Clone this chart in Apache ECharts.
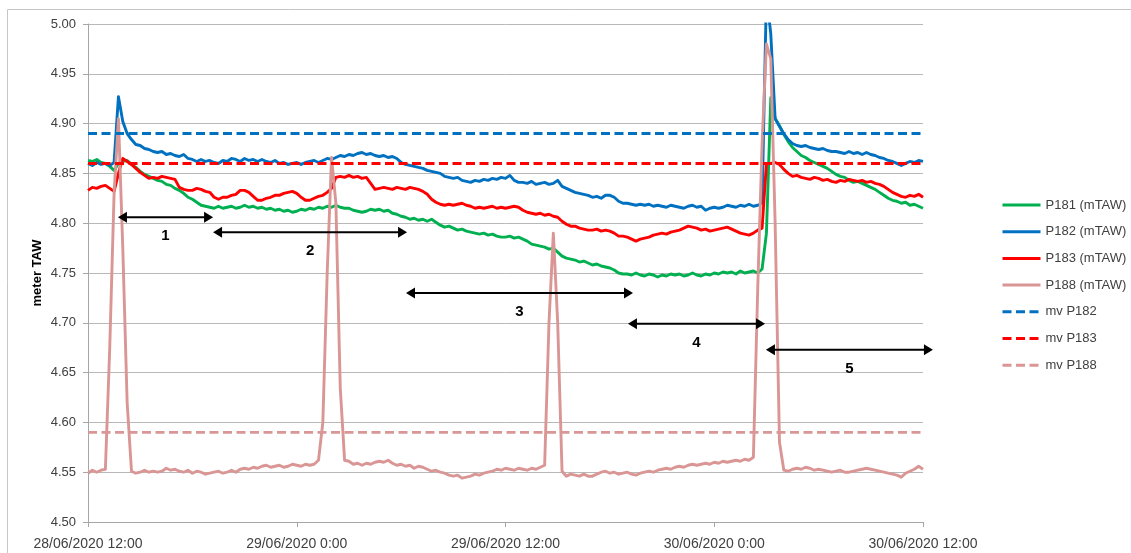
<!DOCTYPE html>
<html>
<head>
<meta charset="utf-8">
<script src="https://cdn.jsdelivr.net/npm/echarts@6/dist/echarts.min.js"></script>
<style>
  html, body { margin: 0; padding: 0; background: #ffffff; }
  #chart { width: 1131px; height: 553px; }
</style>
</head>
<body>
<div id="chart"></div>
<script>
// Quarter-hour readings starting 28/06/2020 12:00 (x axis in hours from start)
const STEP_H = 0.25;

const xTickLabels = ['28/06/2020 12:00', '29/06/2020 0:00', '29/06/2020 12:00', '30/06/2020 0:00', '30/06/2020 12:00'];

// Water levels in mTAW, one row per hour (4 readings)
const p181 = [
  4.863, 4.862, 4.864, 4.861,
  4.860, 4.857, 4.853, 4.860,
  4.862, 4.863, 4.859, 4.856,
  4.852, 4.849, 4.847, 4.845,
  4.843, 4.842, 4.839, 4.838,
  4.835, 4.833, 4.830, 4.826,
  4.824, 4.821, 4.818, 4.817,
  4.816, 4.815, 4.817, 4.815,
  4.816, 4.817, 4.815, 4.816,
  4.818, 4.816, 4.817, 4.815,
  4.816, 4.814, 4.815, 4.813,
  4.814, 4.812, 4.813, 4.811,
  4.812, 4.814, 4.813, 4.815,
  4.814, 4.816, 4.815, 4.817,
  4.816, 4.818, 4.816, 4.815,
  4.815, 4.813, 4.812, 4.811,
  4.812, 4.814, 4.813, 4.814,
  4.812, 4.813, 4.810, 4.809,
  4.807, 4.806, 4.804, 4.805,
  4.803, 4.804, 4.802, 4.804,
  4.801, 4.798, 4.796, 4.797,
  4.795, 4.793, 4.794, 4.792,
  4.791, 4.790, 4.789, 4.790,
  4.788, 4.789, 4.787, 4.786,
  4.786, 4.787, 4.785, 4.786,
  4.784, 4.782, 4.779, 4.778,
  4.777, 4.776, 4.774, 4.775,
  4.771, 4.767, 4.765, 4.764,
  4.763, 4.761, 4.762, 4.760,
  4.758, 4.759, 4.757, 4.756,
  4.755, 4.753, 4.750, 4.749,
  4.749, 4.748, 4.750, 4.748,
  4.747, 4.749, 4.748, 4.746,
  4.748, 4.747, 4.749, 4.748,
  4.749, 4.747, 4.748, 4.750,
  4.748, 4.747, 4.749, 4.748,
  4.750, 4.749, 4.751, 4.750,
  4.751, 4.749, 4.752, 4.750,
  4.751, 4.752, 4.750, 4.754,
  4.790, 4.926, 4.905, 4.898,
  4.889, 4.882, 4.876, 4.872,
  4.868, 4.866, 4.863, 4.861,
  4.859, 4.857, 4.855, 4.852,
  4.849, 4.847, 4.846, 4.843,
  4.841, 4.842, 4.840, 4.838,
  4.836, 4.834, 4.831, 4.828,
  4.825, 4.823, 4.822, 4.820,
  4.821, 4.818, 4.819, 4.817,
  4.815
];

const p182 = [
  4.860, 4.858, 4.861, 4.859,
  4.860, 4.858, 4.861, 4.927,
  4.902, 4.890, 4.884, 4.879,
  4.878, 4.875, 4.874, 4.872,
  4.871, 4.872, 4.869, 4.870,
  4.868, 4.867, 4.869, 4.865,
  4.864, 4.862, 4.864, 4.862,
  4.863, 4.861, 4.860, 4.863,
  4.862, 4.865, 4.864, 4.862,
  4.865, 4.863, 4.864, 4.862,
  4.864, 4.862, 4.861, 4.863,
  4.860, 4.861, 4.859, 4.860,
  4.861, 4.859, 4.861, 4.862,
  4.863, 4.861, 4.863, 4.865,
  4.864, 4.866, 4.868, 4.867,
  4.869, 4.868, 4.870, 4.871,
  4.869, 4.870, 4.868, 4.867,
  4.868, 4.866, 4.867, 4.865,
  4.861, 4.859, 4.858, 4.857,
  4.856, 4.855, 4.853, 4.852,
  4.851, 4.850, 4.847, 4.846,
  4.845, 4.846, 4.843, 4.842,
  4.841, 4.843, 4.842, 4.844,
  4.843, 4.845, 4.844, 4.846,
  4.845, 4.848, 4.843, 4.841,
  4.841, 4.840, 4.842, 4.839,
  4.840, 4.841, 4.839, 4.840,
  4.843, 4.837, 4.835, 4.833,
  4.831, 4.830, 4.829, 4.828,
  4.826, 4.827, 4.825, 4.828,
  4.828, 4.826, 4.822, 4.820,
  4.820, 4.819, 4.818, 4.819,
  4.818, 4.819, 4.817, 4.818,
  4.817, 4.816, 4.818, 4.817,
  4.816, 4.815, 4.817, 4.818,
  4.816, 4.817, 4.813, 4.815,
  4.816, 4.815, 4.816, 4.818,
  4.817, 4.816, 4.818, 4.817,
  4.819, 4.817, 4.818, 4.820,
  5.030, 4.990, 4.905, 4.897,
  4.890, 4.884, 4.880, 4.878,
  4.877, 4.878, 4.876, 4.875,
  4.874, 4.875, 4.873, 4.872,
  4.872, 4.871, 4.870, 4.872,
  4.870, 4.871, 4.869, 4.871,
  4.869, 4.868, 4.866, 4.865,
  4.863, 4.862, 4.860, 4.858,
  4.860, 4.862, 4.861, 4.863,
  4.862
];

const p183 = [
  4.833, 4.836, 4.835, 4.837,
  4.838, 4.835, 4.832, 4.850,
  4.865, 4.862, 4.859, 4.855,
  4.851, 4.848, 4.845, 4.846,
  4.845, 4.847, 4.846, 4.845,
  4.844, 4.836, 4.834, 4.833,
  4.833, 4.835, 4.834, 4.832,
  4.831, 4.826, 4.824, 4.826,
  4.826, 4.828, 4.829, 4.833,
  4.833, 4.831, 4.827, 4.823,
  4.823, 4.825, 4.826, 4.828,
  4.828, 4.830, 4.831, 4.832,
  4.830, 4.826, 4.823, 4.823,
  4.825, 4.827, 4.828, 4.831,
  4.835, 4.846, 4.847, 4.846,
  4.848, 4.846, 4.847, 4.845,
  4.846, 4.840, 4.834, 4.835,
  4.836, 4.835, 4.834, 4.836,
  4.835, 4.834, 4.836, 4.835,
  4.834, 4.832, 4.829, 4.824,
  4.821, 4.819, 4.818, 4.819,
  4.818, 4.819, 4.820, 4.818,
  4.817, 4.815, 4.816, 4.815,
  4.816, 4.817, 4.815, 4.816,
  4.815, 4.816, 4.817, 4.816,
  4.813, 4.811, 4.810, 4.809,
  4.810, 4.808, 4.809, 4.807,
  4.806, 4.802, 4.799, 4.797,
  4.797, 4.795, 4.794, 4.793,
  4.793, 4.794, 4.792, 4.793,
  4.792, 4.790, 4.787, 4.787,
  4.786, 4.784, 4.782, 4.784,
  4.785, 4.786, 4.788, 4.789,
  4.790, 4.789, 4.791, 4.792,
  4.793, 4.795, 4.797, 4.796,
  4.795, 4.793, 4.794, 4.792,
  4.793, 4.794, 4.795, 4.796,
  4.794, 4.792, 4.790, 4.789,
  4.788, 4.790, 4.793, 4.795,
  4.860, 4.860, 4.861, 4.859,
  4.854, 4.850, 4.847, 4.848,
  4.846, 4.845, 4.844, 4.846,
  4.845, 4.843, 4.844, 4.842,
  4.841, 4.843, 4.842, 4.844,
  4.843, 4.842, 4.843, 4.841,
  4.842, 4.840, 4.839, 4.837,
  4.834, 4.831, 4.829, 4.827,
  4.826, 4.828, 4.827, 4.829,
  4.826
];

const p188 = [
  4.549, 4.552, 4.550, 4.552,
  4.553, 4.675, 4.830, 4.905,
  4.775, 4.620, 4.551, 4.549,
  4.550, 4.552, 4.550, 4.551,
  4.550, 4.551, 4.554, 4.552,
  4.553, 4.551, 4.550, 4.552,
  4.549, 4.551, 4.550, 4.548,
  4.549, 4.550, 4.551, 4.549,
  4.550, 4.552, 4.550, 4.553,
  4.554, 4.553, 4.555, 4.554,
  4.556, 4.557, 4.555, 4.556,
  4.557, 4.555, 4.556, 4.558,
  4.557, 4.556, 4.558, 4.557,
  4.558, 4.562, 4.600, 4.750,
  4.866, 4.820, 4.635, 4.562,
  4.561, 4.558, 4.559, 4.557,
  4.559, 4.558, 4.560, 4.561,
  4.560, 4.562, 4.559, 4.557,
  4.558, 4.556, 4.557, 4.554,
  4.556, 4.555, 4.553, 4.551,
  4.552, 4.550, 4.549, 4.547,
  4.546, 4.547, 4.544, 4.545,
  4.546, 4.548, 4.547, 4.549,
  4.550, 4.551, 4.553, 4.552,
  4.554, 4.553, 4.552, 4.554,
  4.553, 4.552, 4.554, 4.553,
  4.555, 4.557, 4.700, 4.790,
  4.700, 4.551, 4.546, 4.548,
  4.547, 4.546, 4.548, 4.546,
  4.546, 4.548, 4.550, 4.551,
  4.549, 4.550, 4.548, 4.549,
  4.550, 4.548, 4.547, 4.549,
  4.550, 4.551, 4.550, 4.552,
  4.553, 4.554, 4.553, 4.555,
  4.556, 4.555, 4.557, 4.558,
  4.557, 4.558, 4.559, 4.558,
  4.560, 4.559, 4.561, 4.560,
  4.561, 4.562, 4.561, 4.563,
  4.562, 4.565, 4.735, 4.880,
  4.980, 4.965, 4.800, 4.580,
  4.552, 4.551, 4.553, 4.554,
  4.553, 4.555, 4.554, 4.552,
  4.553, 4.552, 4.551, 4.550,
  4.551, 4.552, 4.550, 4.550,
  4.551, 4.552, 4.553, 4.554,
  4.553, 4.552, 4.551, 4.550,
  4.549, 4.548, 4.547, 4.545,
  4.549, 4.551, 4.553, 4.556,
  4.553
];

// Mean levels (mv) per piezometer
const mvP182 = 4.89;
const mvP183 = 4.86;
const mvP188 = 4.59;

// Period markers: start hour, end hour, level (mTAW), label
const periodFrom  = [1.72, 7.19, 18.28, 31.04, 38.97];
const periodTo    = [7.19, 18.34, 31.33, 38.92, 48.57];
const periodLevel = [4.806, 4.791, 4.730, 4.699, 4.673];
const periodLabel = ['1', '2', '3', '4', '5'];

const X_MAX = 48;
const FONT = '"Liberation Sans", Arial, sans-serif';
const LINE_W = 2.9;

const toPairs = arr => arr.map((v, i) => [i * STEP_H, v]);
const flat = v => [[0, v], [X_MAX, v]];

function lineSeries(name, data, color, dashed, z) {
  return {
    name, type: 'line', data, symbol: 'circle', symbolSize: 0, showSymbol: false,
    silent: true, animation: false, z,
    lineStyle: { color, width: LINE_W, type: dashed ? [9, 4.5] : 'solid', cap: 'butt', join: 'round' },
    itemStyle: { color, opacity: 0 },
    emphasis: { disabled: true }
  };
}

const chart = echarts.init(document.getElementById('chart'), null, { renderer: 'canvas' });

const periodData = periodFrom.map((f, i) => [f, periodTo[i], periodLevel[i]]);

chart.setOption({
  backgroundColor: '#ffffff',
  animation: false,
  textStyle: { fontFamily: FONT },
  graphic: [{
    type: 'rect', silent: true, z: -10,
    shape: { x: 7.5, y: 9.5, width: 1140, height: 560 },
    style: { fill: 'none', stroke: '#c6c6c6', lineWidth: 1 }
  }],
  grid: { left: 88, right: 208, top: 24, bottom: 31, containLabel: false },
  legend: {
    orient: 'vertical', left: 996, top: 193, padding: 5,
    itemWidth: 38, itemHeight: 14, itemGap: 12.7,
    selectedMode: false,
    itemStyle: { opacity: 0 },
    lineStyle: { width: 3 },
    textStyle: { fontFamily: FONT, fontSize: 13, color: '#404040', lineHeight: 14 },
    data: ['P181 (mTAW)', 'P182 (mTAW)', 'P183 (mTAW)', 'P188 (mTAW)', 'mv P182', 'mv P183', 'mv P188']
  },
  xAxis: {
    type: 'value', min: 0, max: X_MAX, interval: 12,
    axisLine: { show: true, lineStyle: { color: '#a6a6a6', width: 1 } },
    axisTick: { show: true, length: 5, lineStyle: { color: '#a6a6a6' } },
    splitLine: { show: false },
    axisLabel: {
      fontFamily: FONT, fontSize: 14, color: '#404040', margin: 15,
      showMinLabel: true, showMaxLabel: true, hideOverlap: false,
      formatter: v => xTickLabels[Math.round(v / 12)] || ''
    }
  },
  yAxis: {
    type: 'value', min: 4.5, max: 5.0, interval: 0.05,
    name: 'meter TAW', nameLocation: 'middle', nameGap: 44, nameRotate: 90,
    nameMoveOverlap: false,
    nameTextStyle: { fontFamily: FONT, fontSize: 13, fontWeight: 'bold', color: '#000000' },
    axisLine: { show: true, lineStyle: { color: '#a6a6a6', width: 1 } },
    axisTick: { show: true, length: 5, lineStyle: { color: '#a6a6a6' } },
    splitLine: { show: true, lineStyle: { color: '#b8b8b8', width: 1 } },
    axisLabel: {
      fontFamily: FONT, fontSize: 13, color: '#404040', margin: 12,
      showMinLabel: true, showMaxLabel: true,
      formatter: v => v.toFixed(2)
    }
  },
  series: [
    lineSeries('P181 (mTAW)', toPairs(p181), '#00b050', false, 2),
    lineSeries('P182 (mTAW)', toPairs(p182), '#0070c0', false, 2),
    lineSeries('P183 (mTAW)', toPairs(p183), '#ff0000', false, 2),
    lineSeries('P188 (mTAW)', toPairs(p188), '#d99694', false, 2),
    lineSeries('mv P182', flat(mvP182), '#0070c0', true, 3),
    lineSeries('mv P183', flat(mvP183), '#ff0000', true, 3),
    lineSeries('mv P188', flat(mvP188), '#d99694', true, 3),
    {
      name: 'periods', type: 'custom', data: periodData, clip: false,
      silent: true, animation: false, z: 5,
      renderItem(params, api) {
        const a = api.coord([api.value(0), api.value(2)]);
        const b = api.coord([api.value(1), api.value(2)]);
        const y = a[1];
        const head = 9, half = 5.5;
        return {
          type: 'group',
          children: [
            { type: 'line', shape: { x1: a[0] + head - 1, y1: y, x2: b[0] - head + 1, y2: y },
              style: { stroke: '#000000', lineWidth: 2 } },
            { type: 'polygon', shape: { points: [[a[0], y], [a[0] + head, y - half], [a[0] + head, y + half]] },
              style: { fill: '#000000' } },
            { type: 'polygon', shape: { points: [[b[0], y], [b[0] - head, y - half], [b[0] - head, y + half]] },
              style: { fill: '#000000' } },
            { type: 'text',
              style: { text: periodLabel[params.dataIndex], x: (a[0] + b[0]) / 2, y: y + 19,
                       align: 'center', verticalAlign: 'middle',
                       font: 'bold 15px ' + FONT, fill: '#000000' } }
          ]
        };
      }
    }
  ]
});
</script>
</body>
</html>
